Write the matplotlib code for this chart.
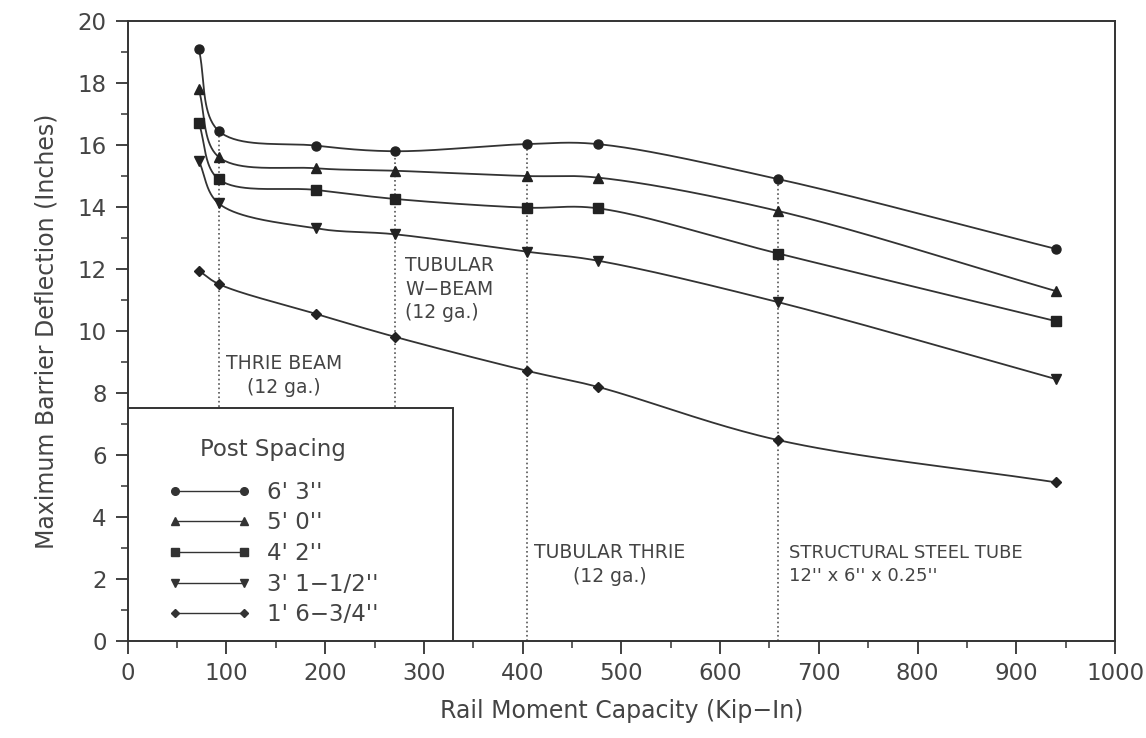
import numpy as np
import matplotlib
matplotlib.use('Agg')
import matplotlib.pyplot as plt
from matplotlib.patches import Rectangle
from matplotlib.ticker import MultipleLocator

matplotlib.rcParams['font.family'] = 'DejaVu Sans'

# data
capacity = [72, 92, 191, 271, 404, 476, 659, 940]
spacing_labels = ["6' 3''", "5' 0''", "4' 2''", "3' 1\u22121/2''", "1' 6\u22123/4''"]
defl_6_3 = [19.1, 16.46, 15.98, 15.8, 16.03, 16.03, 14.9, 12.65]
defl_5_0 = [17.8, 15.62, 15.25, 15.17, 15.0, 14.95, 13.87, 11.29]
defl_4_2 = [16.72, 14.9, 14.55, 14.26, 13.98, 13.96, 12.5, 10.32]
defl_3_1 = [15.5, 14.12, 13.31, 13.12, 12.56, 12.27, 10.93, 8.45]
defl_1_6 = [11.95, 11.52, 10.55, 9.81, 8.72, 8.2, 6.48, 5.12]
markers = ['o', '^', 's', 'v', 'D']
rail_idx = [1, 3, 4, 6]  # rail types marked by dotted lines


def smooth(xs, ys, n=40):
    # centripetal catmull-rom through the points, done in pixel-like units
    sx, sy = 0.9875, 31.0
    P = np.column_stack([np.asarray(xs, float) * sx, np.asarray(ys, float) * sy])
    P = np.vstack([2 * P[0] - P[1], P, 2 * P[-1] - P[-2]])
    out = []
    for i in range(1, len(P) - 2):
        p0, p1, p2, p3 = P[i - 1], P[i], P[i + 1], P[i + 2]
        t0 = 0.0
        t1 = t0 + np.linalg.norm(p1 - p0) ** 0.5
        t2 = t1 + np.linalg.norm(p2 - p1) ** 0.5
        t3 = t2 + np.linalg.norm(p3 - p2) ** 0.5
        t = np.linspace(t1, t2, n)[:, None]
        a1 = (t1 - t) / (t1 - t0) * p0 + (t - t0) / (t1 - t0) * p1
        a2 = (t2 - t) / (t2 - t1) * p1 + (t - t1) / (t2 - t1) * p2
        a3 = (t3 - t) / (t3 - t2) * p2 + (t - t2) / (t3 - t2) * p3
        b1 = (t2 - t) / (t2 - t0) * a1 + (t - t0) / (t2 - t0) * a2
        b2 = (t3 - t) / (t3 - t1) * a2 + (t - t1) / (t3 - t1) * a3
        c = (t2 - t) / (t2 - t1) * b1 + (t - t1) / (t2 - t1) * b2
        out.append(c if i == 1 else c[1:])
    c = np.vstack(out)
    return c[:, 0] / sx, c[:, 1] / sy


ink = '#333333'
fig = plt.figure(figsize=(11.46, 7.38), dpi=100)
ax = fig.add_axes([0.1114, 0.1314, 0.8616, 0.8401])

series = [defl_6_3, defl_5_0, defl_4_2, defl_3_1, defl_1_6]
for ys, mk, lab in zip(series, markers, spacing_labels):
    sx_, sy_ = smooth(capacity, ys)
    ax.plot(sx_, sy_, color=ink, lw=1.3, zorder=2)
    ms = 5 if mk == 'D' else 6.5
    ax.plot(capacity, ys, ls='none', marker=mk, ms=ms, color='#222222', zorder=3)
    ax.plot([], [], color=ink, lw=1.0, marker=mk, ms=ms - 1, label=lab)

# dotted lines at the rail types
ax.vlines([capacity[i] for i in rail_idx], 0, [defl_6_3[i] for i in rail_idx],
          colors='#555555', linestyles=':', lw=1.2, zorder=1)

tfs = 13.5
tc = '#444444'
ax.text(158, 8.56, 'THRIE BEAM\n(12 ga.)', ha='center', va='center', fontsize=tfs,
        color=tc, linespacing=1.3)
ax.text(281, 11.35, 'TUBULAR\nW\u2212BEAM\n(12 ga.)', ha='left', va='center', fontsize=tfs,
        color=tc, linespacing=1.3)
ax.text(488, 2.47, 'TUBULAR THRIE\n(12 ga.)', ha='center', va='center', fontsize=tfs,
        color=tc, linespacing=1.3)
ax.text(670, 2.47, "STRUCTURAL STEEL TUBE\n12'' x 6'' x 0.25''", ha='left', va='center',
        fontsize=13, color=tc, linespacing=1.3)

# legend box
ax.add_patch(Rectangle((0, 0), 329, 7.52, facecolor='white', edgecolor=ink, lw=1.4, zorder=4))
leg = ax.legend(loc='upper left', bbox_to_anchor=(20, 7.2), bbox_transform=ax.transData,
                frameon=False, numpoints=2, handlelength=3.6, handletextpad=0.7,
                labelspacing=0.33, fontsize=16.5, title='Post Spacing',
                title_fontsize=16.5)
leg.set_zorder(5)
for t in leg.get_texts():
    t.set_color(tc)
leg.get_title().set_color(tc)
leg._legend_box.sep = 14

ax.set_xlim(0, 1000)
ax.set_ylim(0, 20)
ax.xaxis.set_major_locator(MultipleLocator(100))
ax.xaxis.set_minor_locator(MultipleLocator(50))
ax.yaxis.set_major_locator(MultipleLocator(2))
ax.yaxis.set_minor_locator(MultipleLocator(1))
ax.tick_params(which='major', length=9, width=1.3, color=ink, labelsize=16.5,
               labelcolor=tc, pad=6)
ax.tick_params(which='minor', length=5, width=1.1, color=ink)
for s in ax.spines.values():
    s.set_color(ink)
    s.set_linewidth(1.4)

ax.set_xlabel('Rail Moment Capacity (Kip\u2212In)', fontsize=17, color=tc, labelpad=10)
ax.set_ylabel('Maximum Barrier Deflection (Inches)', fontsize=17, color=tc, labelpad=14)

plt.savefig('out.png', dpi=100)
